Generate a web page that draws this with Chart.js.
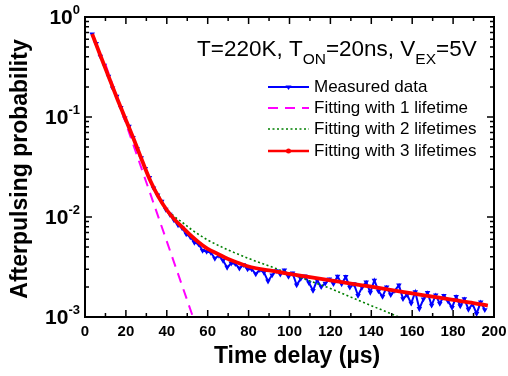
<!DOCTYPE html>
<html>
<head>
<meta charset="utf-8">
<script src="https://cdn.jsdelivr.net/npm/chart.js@4.4.0/dist/chart.umd.min.js"></script>
<style>
  body { margin: 0; background: #fff; }
  canvas { display: block; }
</style>
</head>
<body>
<canvas id="myChart" width="508" height="376"></canvas>
<script>
// measured afterpulsing (time in µs)
const measuredTime = [3.5, 5.5, 7.5, 9.5, 11.5, 13.5, 15.5, 17.5, 19.5, 21.5, 23.5, 25.5, 27.5, 29.5, 31.5, 33.5, 35.5, 37.5, 39.5, 41.5,
    43.5, 45.5, 47.5, 49.5, 51.5, 53.5, 55.5, 57.5, 59.5, 61.5, 63.5, 65.5, 67.5, 69.5, 71.5, 73.5, 75.5, 77.5, 79.5, 81.5,
    83.5, 85.5, 87.5, 89.5, 91.5, 93.5, 95.5, 97.5, 99.5, 101.5, 103.5, 105.5, 107.5, 109.5, 111.5, 113.5, 115.5, 117.5, 119.5, 121.5,
    123.5, 125.5, 127.5, 129.5, 131.5, 133.5, 135.5, 137.5, 139.5, 141.5, 143.5, 145.5, 147.5, 149.5, 151.5, 153.5, 155.5, 157.5, 159.5, 161.5,
    163.5, 165.5, 167.5, 169.5, 171.5, 173.5, 175.5, 177.5, 179.5, 181.5, 183.5, 185.5, 187.5, 189.5, 191.5, 193.5, 195.5];
const measuredData = [0.676, 0.541, 0.405, 0.328, 0.255, 0.195, 0.161, 0.124, 0.0977, 0.0804, 0.0624, 0.0480, 0.0390, 0.0305, 0.0248, 0.0195, 0.0166, 0.0143, 0.0119, 0.0106,
    0.00933, 0.00832, 0.00776, 0.00676, 0.00631, 0.00556, 0.00537, 0.00462, 0.00452, 0.00442, 0.00385, 0.00412, 0.00367, 0.00313, 0.00345, 0.00340, 0.00307, 0.00333, 0.00301, 0.00302,
    0.00269, 0.00297, 0.00279, 0.00228, 0.00263, 0.00290, 0.00267, 0.00295, 0.00254, 0.00274, 0.00209, 0.00242, 0.00256, 0.00220, 0.00184, 0.00234, 0.00200, 0.00217, 0.00240, 0.00215,
    0.00255, 0.00214, 0.00253, 0.00198, 0.00214, 0.00164, 0.00198, 0.00224, 0.00176, 0.00233, 0.00182, 0.00160, 0.00199, 0.00167, 0.00184, 0.00208, 0.00152, 0.00167, 0.00137, 0.00178,
    0.00121, 0.00151, 0.00175, 0.00131, 0.00166, 0.00136, 0.00164, 0.00144, 0.00124, 0.00160, 0.00129, 0.00152, 0.00119, 0.00135, 0.00108, 0.00141, 0.00118];

// fit with 1 lifetime
const fit1Time = [10, 20, 31.8, 40, 52.8, 55];
const fit1Data = [0.336, 0.0863, 0.0174, 0.0057, 0.00100, 0.00074];

// fit with 2 lifetimes
const fit2Time = [3.5, 8, 12, 16, 20, 24, 28, 32, 36, 40, 44, 48, 52, 56, 60, 70, 80, 90, 100, 110, 120, 130, 140, 150, 156];
const fit2Data = [0.676, 0.389, 0.240, 0.148, 0.0933, 0.0589, 0.0363, 0.0234, 0.0166, 0.0120, 0.0100, 0.00871, 0.00750, 0.00661, 0.00589,
    0.00468, 0.00385, 0.00324, 0.00272, 0.00229, 0.00193, 0.00158, 0.00130, 0.00107, 0.000955];

// fit with 3 lifetimes
const fit3Time = [3.5, 8, 12, 16, 20, 24, 28, 32, 36, 40, 44, 48, 52, 56, 60, 65, 70, 75, 80, 90, 100, 110, 120, 130, 140, 150, 160, 170, 180, 190, 197];
const fit3Data = [0.676, 0.389, 0.240, 0.148, 0.0933, 0.0589, 0.0363, 0.0229, 0.0158, 0.01175, 0.00933, 0.00776, 0.00646, 0.00550, 0.00479,
    0.00427, 0.00380, 0.00347, 0.00320, 0.00292, 0.00270, 0.00251, 0.00233, 0.00216, 0.00201, 0.00186, 0.00172, 0.00160, 0.00148, 0.00138, 0.00130];

const xTicks = [0, 20, 40, 60, 80, 100, 120, 140, 160, 180, 200];
const yTicks = [0.001, 0.01, 0.1, 1];
const yTickExp = ['-3', '-2', '-1', '0'];
const seriesLabels = ['Measured data', 'Fitting with 1 lifetime', 'Fitting with 2 lifetimes', 'Fitting with 3 lifetimes'];

const FONT = '"Liberation Sans", Arial, sans-serif';

function toPoints(xs, ys) {
    return xs.map((x, i) => ({ x: x, y: ys[i] }));
}

// frame, inward ticks, labels, legend, note
const framePlugin = {
    id: 'framePlugin',
    afterDraw(chart) {
        const ctx = chart.ctx;
        const a = chart.chartArea;
        const xs = chart.scales.x;
        const ys = chart.scales.y;
        ctx.save();
        ctx.strokeStyle = '#000';
        ctx.lineWidth = 1.5;
        ctx.beginPath();
        for (let v = 0; v <= 200; v += 10) {
            const px = xs.getPixelForValue(v);
            const len = v % 20 == 0 ? 7 : 4;
            ctx.moveTo(px, a.bottom); ctx.lineTo(px, a.bottom - len);
            ctx.moveTo(px, a.top); ctx.lineTo(px, a.top + len);
        }
        for (let d = -3; d <= 0; d++) {
            for (let m = 1; m <= 9; m++) {
                if (d == 0 && m > 1) break;
                const py = ys.getPixelForValue(m * Math.pow(10, d));
                const len = m == 1 ? 7 : 4;
                ctx.moveTo(a.left, py); ctx.lineTo(a.left + len, py);
                ctx.moveTo(a.right, py); ctx.lineTo(a.right - len, py);
            }
        }
        ctx.stroke();
        ctx.lineWidth = 2;
        ctx.strokeRect(a.left, a.top, a.right - a.left, a.bottom - a.top);

        // x tick labels
        ctx.fillStyle = '#000';
        ctx.textAlign = 'center';
        ctx.textBaseline = 'middle';
        ctx.font = 'bold 15px ' + FONT;
        xTicks.forEach(v => {
            ctx.fillText(String(v), xs.getPixelForValue(v), 332);
        });

        // y tick labels 10^n
        ctx.textAlign = 'left';
        yTicks.forEach((v, i) => {
            const py = ys.getPixelForValue(v);
            ctx.font = 'bold 13px ' + FONT;
            const ew = ctx.measureText(yTickExp[i]).width;
            ctx.font = 'bold 21px ' + FONT;
            const bw = ctx.measureText('10').width;
            ctx.fillText('10', 80 - ew - bw, py + 1);
            ctx.font = 'bold 13px ' + FONT;
            ctx.fillText(yTickExp[i], 80 - ew, py - 7);
        });

        // axis titles
        ctx.font = 'bold 23px ' + FONT;
        ctx.textAlign = 'center';
        ctx.fillText('Time delay (µs)', 297, 357);
        ctx.save();
        ctx.translate(21, 169);
        ctx.rotate(-Math.PI / 2);
        ctx.fillText('Afterpulsing probability', 0, 0);
        ctx.restore();

        // condition note
        const parts = [['T=220K, T', false], ['ON', true], ['=20ns, V', false], ['EX', true], ['=5V', false]];
        let tx = 197;
        ctx.textAlign = 'left';
        ctx.textBaseline = 'alphabetic';
        parts.forEach(p => {
            ctx.font = (p[1] ? '15.5px ' : '22.5px ') + FONT;
            ctx.fillText(p[0], tx, p[1] ? 64 : 56);
            tx += ctx.measureText(p[0]).width;
        });

        // legend
        const rowY = [87, 108, 129, 151];
        ctx.font = '17px ' + FONT;
        ctx.textBaseline = 'middle';
        chart.data.datasets.forEach((ds, i) => {
            const y = rowY[i];
            ctx.save();
            ctx.strokeStyle = ds.borderColor;
            ctx.lineWidth = Math.min(ds.borderWidth, 2.5);
            ctx.setLineDash(ds.borderDash || []);
            ctx.beginPath();
            ctx.moveTo(268, y);
            ctx.lineTo(309, y);
            ctx.stroke();
            ctx.restore();
            if (i == 0) {
                ctx.fillStyle = ds.borderColor;
                ctx.beginPath();
                ctx.moveTo(285.5, y - 1.5);
                ctx.lineTo(291.5, y - 1.5);
                ctx.lineTo(288.5, y + 3);
                ctx.closePath();
                ctx.fill();
            }
            if (i == 3) {
                ctx.fillStyle = ds.borderColor;
                ctx.beginPath();
                ctx.arc(288.5, y, 2.5, 0, Math.PI * 2);
                ctx.fill();
            }
            ctx.fillStyle = '#000';
            ctx.fillText(seriesLabels[i], 314, y);
        });
        ctx.restore();
    }
};

const ctx = document.getElementById('myChart');
const myChart = new Chart(ctx, {
    type: 'line',
    data: {
        datasets: [{
            label: seriesLabels[0],
            data: toPoints(measuredTime, measuredData),
            borderColor: '#0000ff',
            backgroundColor: '#0000ff',
            borderWidth: 2,
            pointStyle: 'triangle',
            rotation: 180,
            pointRadius: 3.2,
            pointBorderWidth: 0,
            pointBackgroundColor: '#0000ff',
            order: 3
        }, {
            label: seriesLabels[1],
            data: toPoints(fit1Time, fit1Data),
            borderColor: '#ff00ff',
            borderWidth: 2,
            borderDash: [10, 7],
            pointRadius: 0,
            order: 2
        }, {
            label: seriesLabels[2],
            data: toPoints(fit2Time, fit2Data),
            borderColor: '#008000',
            borderWidth: 1.6,
            borderDash: [2, 2.5],
            pointRadius: 0,
            cubicInterpolationMode: 'monotone',
            order: 1
        }, {
            label: seriesLabels[3],
            data: toPoints(fit3Time, fit3Data),
            borderColor: '#ff0000',
            borderWidth: 3.8,
            pointRadius: 0,
            cubicInterpolationMode: 'monotone',
            order: 0
        }]
    },
    options: {
        responsive: false,
        animation: false,
        devicePixelRatio: 1,
        events: [],
        layout: { padding: { left: 85, top: 17, right: 14, bottom: 59 } },
        scales: {
            x: { type: 'linear', min: 0, max: 200, display: false },
            y: { type: 'logarithmic', min: 0.001, max: 1, display: false }
        },
        plugins: {
            legend: { display: false },
            tooltip: { enabled: false }
        }
    },
    plugins: [framePlugin]
});
</script>
</body>
</html>
